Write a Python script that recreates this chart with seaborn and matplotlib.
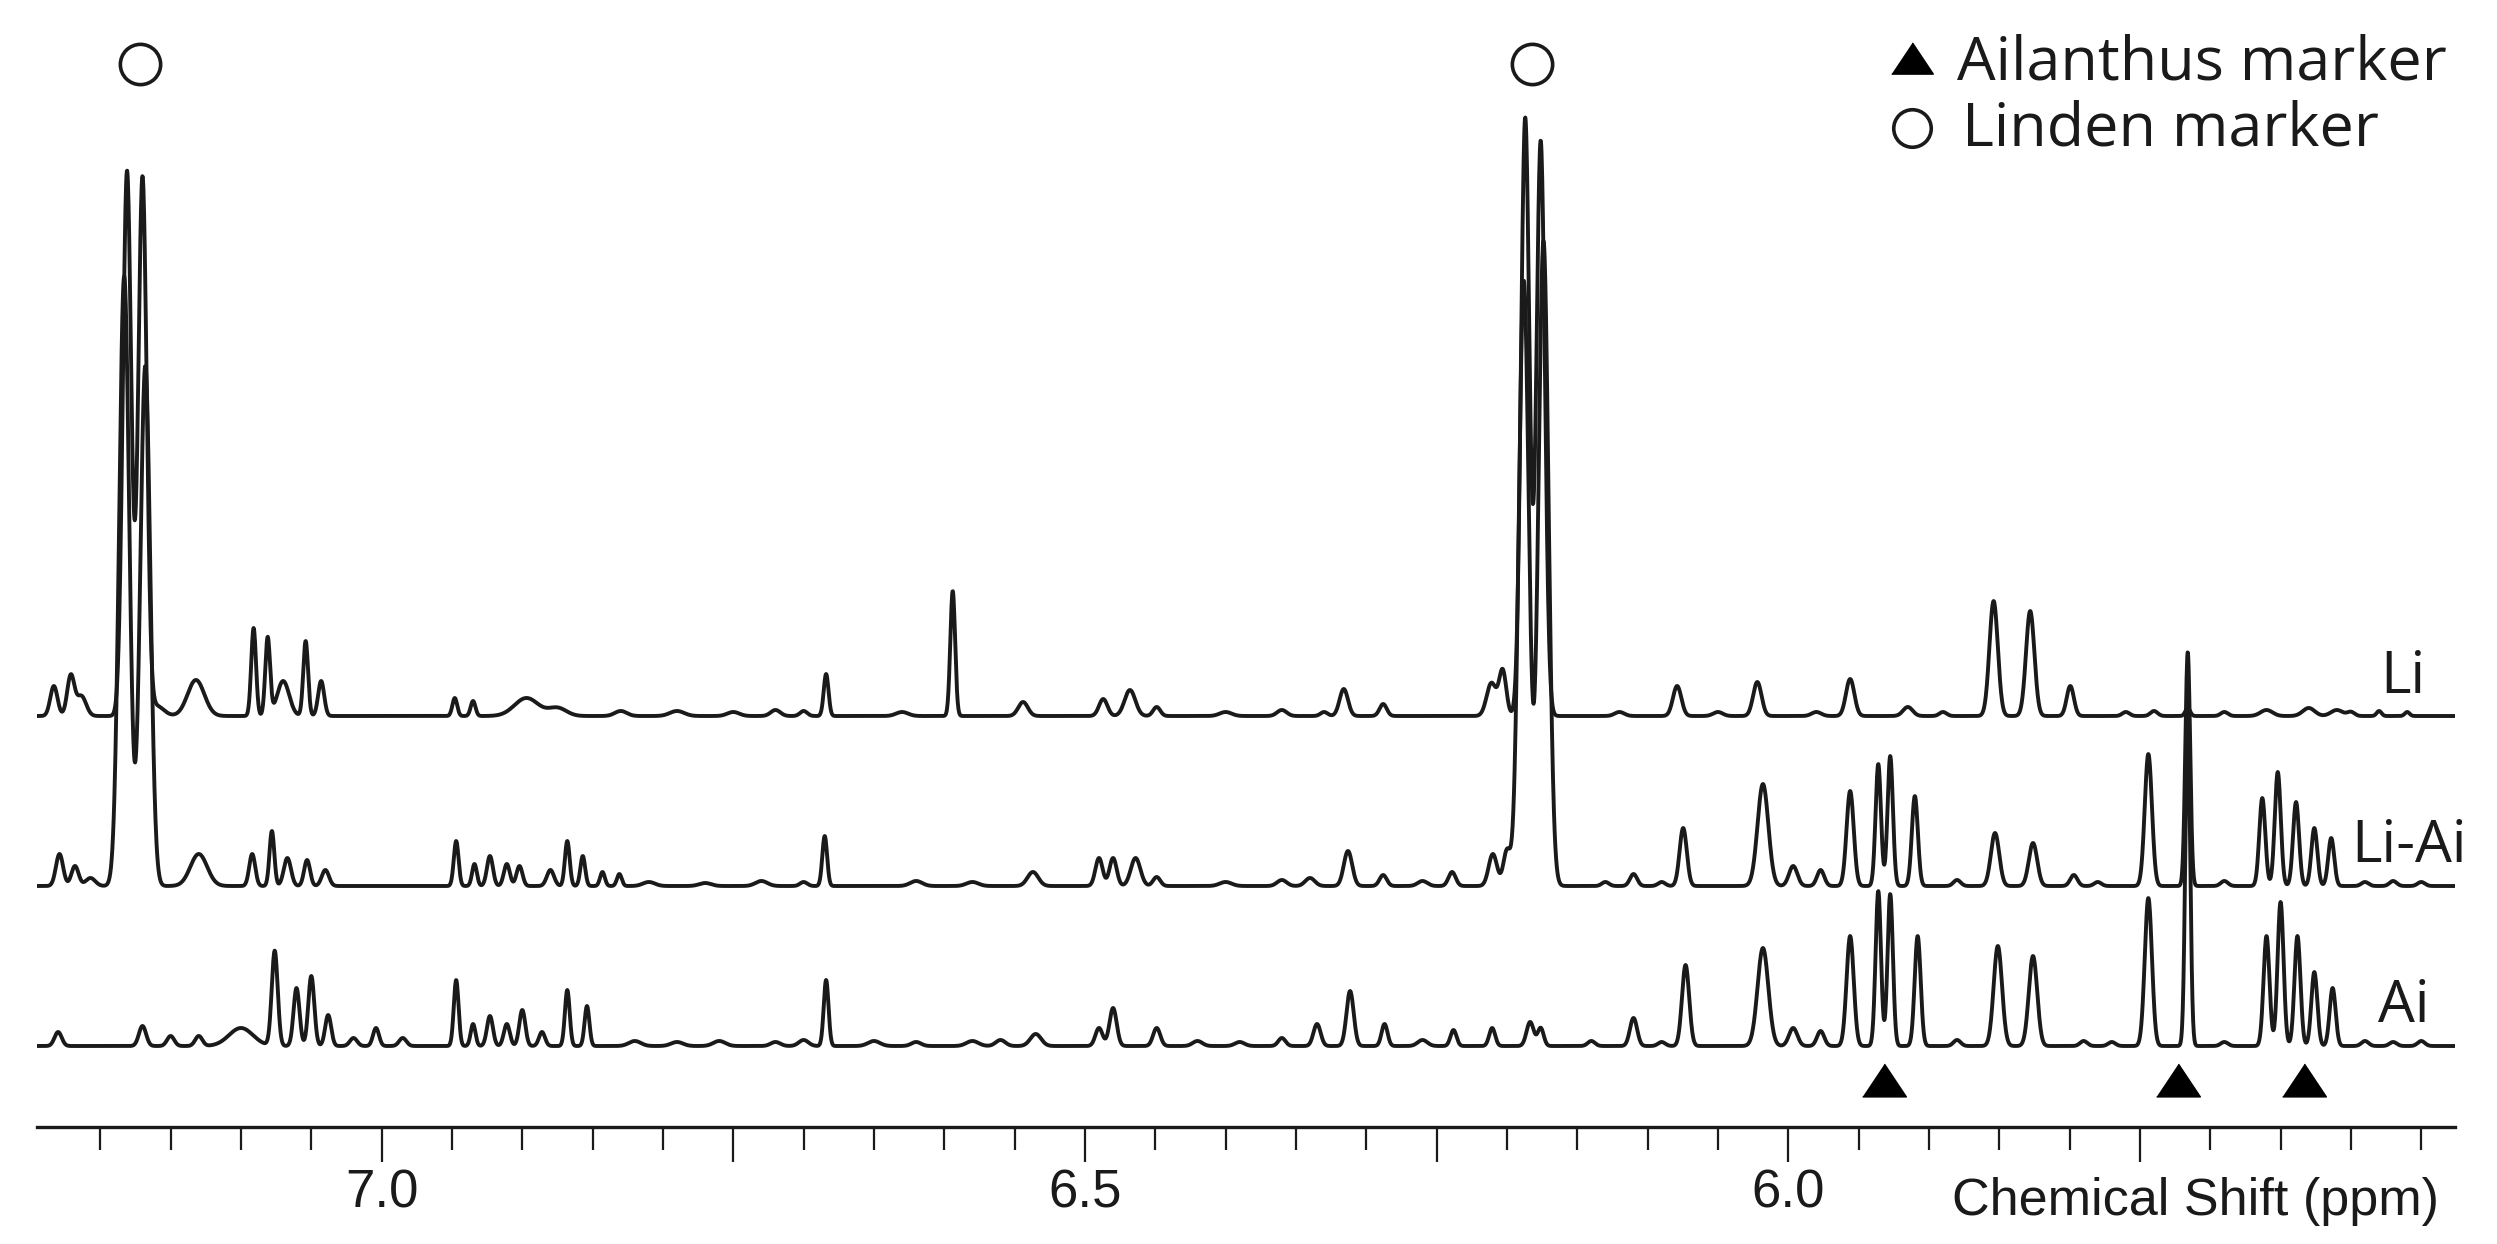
import numpy as np
import pandas as pd
import matplotlib
matplotlib.use("Agg")
import matplotlib.pyplot as plt
import seaborn as sns
from matplotlib.ticker import FixedLocator, FixedFormatter, MultipleLocator

# ---------------- data (peak lists) ----------------
# chemical shift (ppm), peak height (intensity units), line width (FWHM, ppm)
li_pos = [7.233, 7.221, 7.2135, 7.181, 7.170, 7.160, 7.132, 7.091, 7.081, 7.070, 7.054, 7.043,
          6.948, 6.935, 6.897, 6.875, 6.83, 6.79, 6.75, 6.72, 6.70, 6.684, 6.63, 6.594, 6.544,
          6.487, 6.468, 6.449, 6.40, 6.36, 6.33, 6.316, 6.288, 6.211, 6.203, 6.187, 6.176,
          6.12, 6.079, 6.05, 6.022, 5.98, 5.956, 5.915, 5.89, 5.854, 5.828, 5.7995, 5.76,
          5.74, 5.716, 5.69, 5.66, 5.63, 5.61, 5.60, 5.58, 5.56]
li_height = [30, 40, 20, 545, 538, 10, 36, 88, 78, 35, 75, 35,
             18, 15, 18, 8, 5, 5, 4, 6, 5, 42, 4, 125, 14,
             17, 26, 9, 4, 6, 4, 27, 12, 33, 45, 598, 575,
             4, 30, 4, 34, 4, 37, 9, 4, 115, 105, 30, 4,
             5, 8, 4, 6, 8, 6, 4, 5, 4]
li_width = [0.006, 0.006, 0.008, 0.007, 0.007, 0.012, 0.014, 0.004, 0.004, 0.010, 0.004, 0.005,
            0.004, 0.004, 0.020, 0.015, 0.010, 0.012, 0.010, 0.008, 0.006, 0.004, 0.010, 0.004, 0.008,
            0.007, 0.009, 0.006, 0.010, 0.008, 0.006, 0.007, 0.006, 0.008, 0.006, 0.007, 0.007,
            0.008, 0.007, 0.008, 0.007, 0.008, 0.007, 0.008, 0.006, 0.007, 0.007, 0.006, 0.006,
            0.006, 0.004, 0.006, 0.010, 0.010, 0.010, 0.006, 0.004, 0.004]

liai_pos = [7.229, 7.218, 7.207, 7.183, 7.168, 7.130, 7.092, 7.078, 7.067, 7.053, 7.040,
            6.947, 6.934, 6.923, 6.911, 6.902, 6.880, 6.868, 6.857, 6.843, 6.831, 6.81, 6.77,
            6.73, 6.70, 6.685, 6.62, 6.58, 6.537, 6.490, 6.480, 6.464, 6.449, 6.40, 6.36, 6.34,
            6.313, 6.288, 6.26, 6.239, 6.210, 6.200, 6.188, 6.174, 6.13, 6.110, 6.09, 6.0747,
            6.018, 5.9965, 5.977, 5.956, 5.936, 5.9275, 5.910, 5.88, 5.853, 5.826, 5.797, 5.78,
            5.744, 5.716, 5.69, 5.663, 5.652, 5.639, 5.626, 5.614, 5.59, 5.57, 5.55]
liai_height = [32, 20, 8, 610, 520, 32, 32, 55, 28, 26, 16,
               45, 22, 30, 22, 20, 16, 45, 30, 14, 12, 4, 3,
               5, 4, 50, 5, 4, 14, 28, 28, 28, 9, 4, 6, 8,
               35, 11, 5, 14, 32, 35, 605, 645, 4, 12, 4, 58,
               102, 20, 16, 95, 122, 130, 90, 6, 53, 43, 11, 4,
               132, 234, 5, 88, 114, 84, 58, 48, 4, 5, 4]
liai_width = [0.006, 0.006, 0.008, 0.0084, 0.0084, 0.014, 0.005, 0.004, 0.006, 0.005, 0.006,
              0.004, 0.004, 0.005, 0.005, 0.005, 0.006, 0.004, 0.004, 0.004, 0.004, 0.010, 0.010,
              0.010, 0.006, 0.004, 0.010, 0.010, 0.009, 0.006, 0.006, 0.008, 0.006, 0.010, 0.008, 0.008,
              0.007, 0.006, 0.008, 0.006, 0.007, 0.006, 0.0084, 0.0084, 0.006, 0.006, 0.006, 0.006,
              0.009, 0.007, 0.006, 0.006, 0.0045, 0.0045, 0.005, 0.006, 0.007, 0.007, 0.006, 0.006,
              0.006, 0.004, 0.006, 0.005, 0.005, 0.005, 0.005, 0.005, 0.006, 0.006, 0.006]

ai_pos = [7.230, 7.170, 7.150, 7.130, 7.100, 7.076, 7.0605, 7.050, 7.038, 7.020, 7.004, 6.985,
          6.947, 6.935, 6.923, 6.911, 6.900, 6.886, 6.868, 6.854, 6.82, 6.79, 6.76, 6.72, 6.70,
          6.684, 6.65, 6.62, 6.58, 6.56, 6.535, 6.490, 6.480, 6.449, 6.42, 6.39, 6.36, 6.335,
          6.3115, 6.287, 6.26, 6.238, 6.2105, 6.1835, 6.176, 6.14, 6.110, 6.09, 6.073, 6.018,
          5.9965, 5.977, 5.956, 5.936, 5.9275, 5.908, 5.88, 5.851, 5.826, 5.79, 5.77, 5.744,
          5.716, 5.69, 5.660, 5.650, 5.638, 5.626, 5.613, 5.59, 5.57, 5.55]
ai_height = [14, 20, 10, 10, 18, 95, 58, 70, 31, 8, 18, 8,
             66, 22, 30, 22, 36, 14, 56, 40, 5, 4, 5, 4, 6,
             66, 5, 4, 5, 6, 12, 18, 38, 18, 5, 4, 8, 22,
             55, 22, 6, 16, 18, 24, 18, 5, 28, 4, 81, 98,
             18, 15, 110, 155, 152, 110, 6, 100, 90, 5, 4, 148,
             326, 4, 110, 144, 110, 74, 58, 5, 4, 5]
ai_width = [0.006, 0.006, 0.006, 0.006, 0.020, 0.005, 0.005, 0.005, 0.005, 0.006, 0.005, 0.006,
            0.004, 0.004, 0.005, 0.005, 0.005, 0.005, 0.004, 0.004, 0.010, 0.010, 0.010, 0.008, 0.008,
            0.004, 0.010, 0.008, 0.010, 0.008, 0.009, 0.006, 0.006, 0.006, 0.008, 0.008, 0.006, 0.006,
            0.006, 0.005, 0.008, 0.005, 0.005, 0.006, 0.005, 0.006, 0.006, 0.006, 0.006, 0.009,
            0.007, 0.006, 0.006, 0.0045, 0.0045, 0.005, 0.006, 0.007, 0.007, 0.006, 0.006, 0.006,
            0.004, 0.006, 0.005, 0.005, 0.005, 0.005, 0.005, 0.006, 0.006, 0.006]

trace_names = ["Li", "Li-Ai", "Ai"]
trace_offsets = [411, 241, 81]          # vertical stacking of the spectra
linden_marker_ppm = [7.172, 6.182]
ailanthus_marker_ppm = [5.932, 5.723, 5.633]
major_ticks = [7.0, 6.75, 6.5, 6.25, 6.0, 5.75]
major_labels = ["7.0", "", "6.5", "", "6.0", ""]
x_label = "Chemical Shift (ppm)"
legend_labels = ["Ailanthus marker", "Linden marker"]

# ---------------- build spectra from the peak lists ----------------
ppm = np.linspace(7.245, 5.526, 7000)


def spectrum(pos, height, width):
    y = np.zeros_like(ppm)
    for p, h, w in zip(pos, height, width):
        s = w / 2.3548
        y += h * np.exp(-0.5 * ((ppm - p) / s) ** 2)
    return y


peak_sets = [(li_pos, li_height, li_width),
             (liai_pos, liai_height, liai_width),
             (ai_pos, ai_height, ai_width)]

# ---------------- plotting ----------------
sns.set_theme(style="ticks")
plt.rcParams["font.family"] = ["Open Sans", "DejaVu Sans"]

W, H = 2497, 1244
fig = plt.figure(figsize=(W / 100, H / 100), dpi=100)
ax = fig.add_axes([37 / W, 117 / H, 2418 / W, 1127 / H])

ink = "#1a1a1a"
for name, off, (p, h, w) in zip(trace_names, trace_offsets, peak_sets):
    df = pd.DataFrame({"ppm": ppm, "intensity": off + spectrum(p, h, w)})
    sns.lineplot(data=df, x="ppm", y="intensity", ax=ax, color=ink, lw=2.8,
                 estimator=None, sort=False)

# markers above / below the diagnostic peaks
ax.plot(linden_marker_ppm, [1063] * len(linden_marker_ppm), ls="none", marker="o",
        ms=29, mfc="none", mec=ink, mew=2.6, clip_on=False)
tri = [(-1, -0.75), (1, -0.75), (0, 0.75)]
ax.plot(ailanthus_marker_ppm, [47] * len(ailanthus_marker_ppm), ls="none", marker=tri,
        ms=31.5, color="black", clip_on=False)

ax.set_xlim(7.245, 5.526)
ax.set_ylim(0, 1127)
ax.set_xlabel("")
ax.set_ylabel("")
ax.set_yticks([])
sns.despine(ax=ax, left=True, top=True, right=True)
ax.spines["bottom"].set_linewidth(2.4)
ax.spines["bottom"].set_color(ink)

tick_font = ["Liberation Sans", "DejaVu Sans"]
ax.xaxis.set_major_locator(FixedLocator(major_ticks))
ax.xaxis.set_major_formatter(FixedFormatter(major_labels))
ax.xaxis.set_minor_locator(MultipleLocator(0.05))
ax.tick_params(axis="x", which="major", bottom=True, direction="out", length=25,
               width=1.6, color=ink, pad=5, labelsize=38, labelcolor=ink)
ax.tick_params(axis="x", which="minor", bottom=True, direction="out", length=16.5,
               width=1.6, color=ink)
for lab in ax.get_xticklabels():
    lab.set_fontfamily(tick_font)

fig.text(2195 / W, 1 - 1215 / H, x_label, ha="center", va="baseline", fontsize=37.5,
         color=ink, family=tick_font)

# trace labels
fig.text(2425 / W, 1 - 693 / H, trace_names[0], ha="right", va="baseline", fontsize=42, color=ink)
fig.text(2467 / W, 1 - 862 / H, trace_names[1], ha="right", va="baseline", fontsize=42, color=ink)
fig.text(2430 / W, 1 - 1022 / H, trace_names[2], ha="right", va="baseline", fontsize=42, color=ink)

# legend
fig.text(1957 / W, 1 - 79 / H, legend_labels[0], ha="left", va="baseline", fontsize=44, color=ink)
fig.text(1962 / W, 1 - 146 / H, legend_labels[1], ha="left", va="baseline", fontsize=44, color=ink)
ax.plot([1912 / W], [1 - 58 / H], transform=fig.transFigure, marker=tri, ms=30,
        color="black", ls="none", clip_on=False)
ax.plot([1912 / W], [1 - 128 / H], transform=fig.transFigure, marker="o", ms=27,
        mfc="none", mec=ink, mew=2.6, ls="none", clip_on=False)

fig.savefig("out.png", dpi=100, facecolor="white")
